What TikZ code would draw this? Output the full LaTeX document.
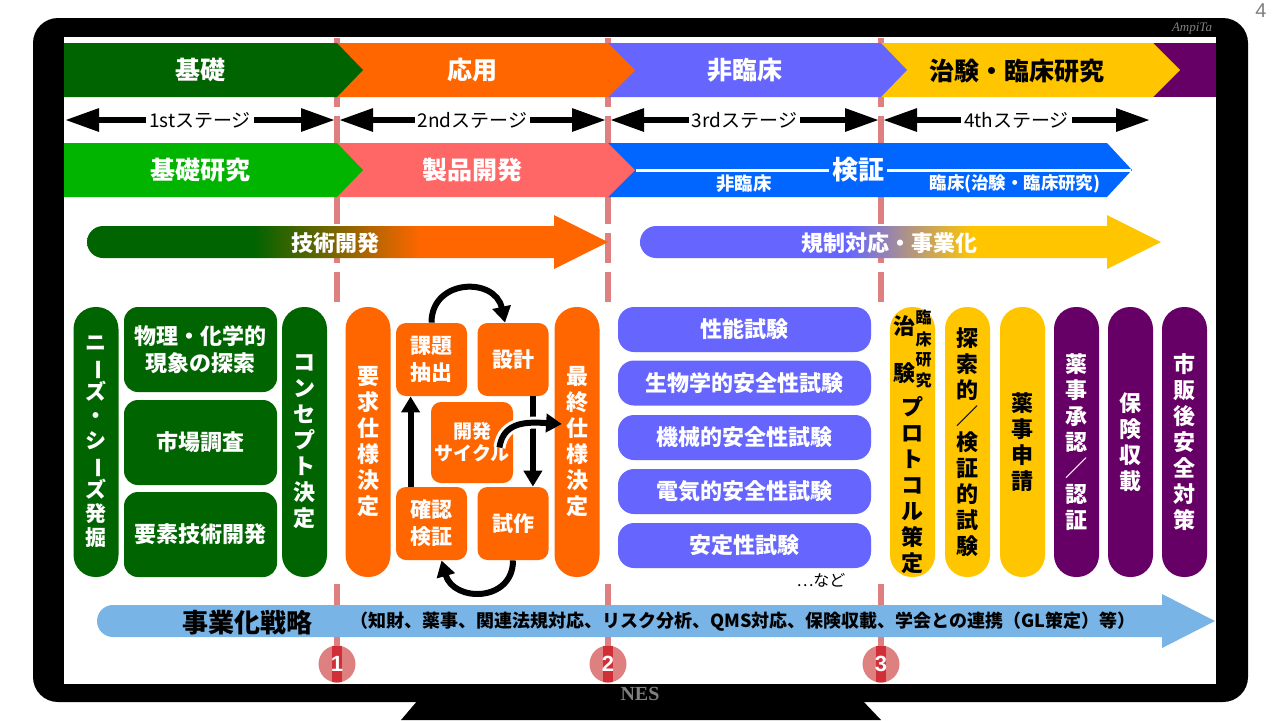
\documentclass[tikz,border=0pt]{standalone}
\usepackage{fontspec}
\setmainfont{Noto Sans CJK JP}
\newfontfamily\latinsans{Liberation Sans}
\newfontfamily\latinserif{Liberation Serif}
\usepackage{graphicx}
\usepackage{xcolor}
\usepackage{tikz}
\usetikzlibrary{positioning, shapes.geometric, calc, arrows.meta}
\definecolor{ntDkGreen}{RGB}{0, 100, 0}
\definecolor{ntGreen}{RGB}{0, 180, 0}
\definecolor{ntOrange}{RGB}{255, 102, 0}
\definecolor{ntSalmon}{RGB}{255, 102, 102}
\definecolor{ntViolet}{RGB}{102, 102, 255}
\definecolor{ntBlue}{RGB}{0, 102, 255}
\definecolor{ntYellow}{RGB}{255, 198, 0}
\definecolor{ntPurple}{RGB}{102, 0, 102}
\definecolor{ntLine}{RGB}{222, 128, 128}
\definecolor{ntRed}{RGB}{200, 10, 20}
\definecolor{ntSky}{RGB}{120, 180, 230}
\definecolor{ntGray}{RGB}{128, 128, 128}
\pgfdeclarehorizontalshading{techshade}{100bp}{color(0bp)=(ntDkGreen); color(41bp)=(ntDkGreen); color(57bp)=(ntOrange); color(100bp)=(ntOrange)}
\pgfdeclarehorizontalshading{regshade}{100bp}{color(0bp)=(ntViolet); color(45bp)=(ntViolet); color(57bp)=(ntYellow); color(100bp)=(ntYellow)}
\newcommand{\tatebar}{\rotatebox[origin=c]{-90}{ー}}
\tikzset{
    base/.style={
        align=center,
        inner sep=0pt,
        font=\bfseries
    },
    bandtext/.style={
        base,
        text=white,
        font=\fontsize{12.5}{14}\selectfont\bfseries
    },
    stagetext/.style={
        fill=white,
        inner sep=1.5pt,
        text=black,
        font=\fontsize{9.5}{11}\selectfont
    },
    stage/.style={
        {Triangle[length=17pt,width=11pt]}-{Triangle[length=17pt,width=11pt]},
        line width=3pt,
        black
    },
    phase/.style={
        draw=ntLine,
        line width=3pt,
        dash pattern=on 15pt off 4.5pt
    },
    arrowtext/.style={
        base,
        text=white,
        font=\fontsize{11}{13}\selectfont\bfseries
    },
    task/.style={
        base,
        rectangle,
        rounded corners=7pt,
        text=white,
        font=\fontsize{11}{13.5}\selectfont\bfseries
    },
    greenbox/.style={
        task,
        fill=ntDkGreen,
        minimum width=76.5pt,
        minimum height=42.5pt
    },
    cyclebox/.style={
        task,
        fill=ntOrange,
        rounded corners=5pt,
        minimum width=35.5pt,
        minimum height=36.5pt,
        font=\fontsize{10.5}{13.5}\selectfont\bfseries
    },
    testbox/.style={
        task,
        fill=ntViolet,
        rounded corners=8pt,
        minimum width=126.5pt,
        minimum height=22.5pt
    },
    pill/.style={
        base,
        rectangle,
        rounded corners=11pt,
        minimum width=22.5pt,
        minimum height=135pt,
        text=white,
        font=\fontsize{11}{13}\selectfont\bfseries
    },
    cycle/.style={
        -{Triangle[length=8pt,width=9pt]},
        line width=3pt,
        black
    },
    badge/.style={
        circle,
        minimum size=18.5pt,
        inner sep=0pt,
        fill=ntLine,
        path picture={
            \fill[ntRed!85] ([xshift=-2.6pt]path picture bounding box.south)
              rectangle ([xshift=2.6pt]path picture bounding box.north);
        },
        text=white,
        font=\latinsans\bfseries\fontsize{11}{12}\selectfont
    }
}
\begin{document}
\begin{tikzpicture}[x=0.5pt, y=-0.5pt]
  \useasboundingbox (0,0) rectangle (1280,720);
  \fill[white] (0,0) rectangle (1280,720);

  % Monitor
  \fill[black, rounded corners=12.5pt] (33,18) rectangle (1248,702);
  \fill[black] (418,700) -- (862,700) -- (881,720) -- (401,720) -- cycle;
  \fill[white] (64,37) rectangle (1216,684);

  % Phase lines
  \coordinate (top1) at (337,38);  \coordinate (bot1) at (337,650);
  \coordinate (top2) at (608,38);  \coordinate (bot2) at (608,650);
  \coordinate (top3) at (881,38);  \coordinate (bot3) at (881,650);
  \foreach \p in {1,2,3}
    \draw[phase] (top\p) -- (bot\p);
  \fill[white] (64,306) rectangle (1216,578);

  % Phase band
  \fill[ntPurple] (1150,43) rectangle (1216,97);
  \fill[ntYellow] (881,43) -- (1153,43) -- (1180,70) -- (1153,97) -- (881,97) -- cycle;
  \fill[ntViolet] (608,43) -- (881,43) -- (907,70) -- (881,97) -- (608,97) -- cycle;
  \fill[ntOrange] (337,43) -- (608,43) -- (635,70) -- (608,97) -- (337,97) -- cycle;
  \fill[ntDkGreen] (64,43) -- (337,43) -- (363,70) -- (337,97) -- (64,97) -- cycle;
  \node[bandtext] (kiso) at (200,70) {基礎};
  \node[bandtext] (ouyou) at (472,70) {応用};
  \node[bandtext] (hirinsho) at (745,70) {非臨床};
  \node[bandtext, text=black] (chiken) at (1017,71) {治験・臨床研究};

  % Stages
  \coordinate (s1a) at (65,120);  \coordinate (s1b) at (335,120);
  \coordinate (s2a) at (339,120); \coordinate (s2b) at (606,120);
  \coordinate (s3a) at (610,120); \coordinate (s3b) at (879,120);
  \coordinate (s4a) at (883,120); \coordinate (s4b) at (1150,120);
  \foreach \s/\lbl in {1/1st,2/2nd,3/3rd,4/4th}
    \draw[stage] (s\s a) -- (s\s b) node[midway, stagetext] (stage\s) {\lbl ステージ};

  % Work band
  \fill[ntBlue] (608,143) -- (1107,143) -- (1132,170) -- (1107,197) -- (608,197) -- cycle;
  \fill[ntSalmon] (337,143) -- (608,143) -- (635,170) -- (608,197) -- (337,197) -- cycle;
  \fill[ntGreen] (64,143) -- (337,143) -- (363,170) -- (337,197) -- (64,197) -- cycle;
  \draw[white, line width=1.5pt] (636,170) -- (1131,170);
  \node[bandtext] (kisokenkyu) at (200,170) {基礎研究};
  \node[bandtext] (seihin) at (472,170) {製品開発};
  \node[bandtext, fill=ntBlue, inner sep=1.5pt, font=\fontsize{13}{15}\selectfont\bfseries] (kensho) at (858,170) {検証};
  \node[base, text=white, font=\fontsize{9.2}{11}\selectfont\bfseries] (kenshoA) at (744,184) {非臨床};
  \node[base, text=white, font=\fontsize{8.7}{10}\selectfont\bfseries] (kenshoB) at (1015,184) {臨床(治験・臨床研究)};

  % Development and regulation arrows
  \shade[shading=techshade] (103,226) -- (554,226) -- (554,215) -- (608,242) -- (554,269) -- (554,258) -- (103,258)
    .. controls (94.2,258) and (87,250.8) .. (87,242) .. controls (87,233.2) and (94.2,226) .. (103,226) -- cycle;
  \node[arrowtext] (gijutsu) at (335,243) {技術開発};
  \shade[shading=regshade] (656,226) -- (1107,226) -- (1107,215) -- (1161,242) -- (1107,269) -- (1107,258) -- (656,258)
    .. controls (647.2,258) and (640,250.8) .. (640,242) .. controls (640,233.2) and (647.2,226) .. (656,226) -- cycle;
  \node[arrowtext] (kisei) at (889,243) {規制対応・事業化};

  % Basic research
  \node[pill, fill=ntDkGreen, font=\fontsize{10.5}{12.2}\selectfont\bfseries] (needs) at (96,442) {ニ\\\tatebar\\ズ\\・\\シ\\\tatebar\\ズ\\発\\掘};
  \node[greenbox] (butsuri) at (200.5,349.5) {物理・化学的\\現象の探索};
  \node[greenbox] (shijou) at (200.5,442.5) {市場調査};
  \node[greenbox] (youso) at (200.5,534.5) {要素技術開発};
  \node[pill, fill=ntDkGreen] (concept) at (304.5,442) {コ\\ン\\セ\\プ\\ト\\決\\定};

  % Development cycle
  \node[pill, fill=ntOrange] (youkyu) at (368,442) {要\\求\\仕\\様\\決\\定};
  \node[cyclebox] (kadai) at (431.5,359.5) {課題\\抽出};
  \node[cyclebox] (sekkei) at (513,359.5) {設計};
  \node[cyclebox, minimum width=41pt, minimum height=40.5pt, font=\fontsize{9.5}{11}\selectfont\bfseries] (kaihatsu) at (472,442.5) {開発\\サイクル};
  \node[cyclebox] (kakunin) at (431.5,523.5) {確認\\検証};
  \node[cyclebox] (shisaku) at (513,523.5) {試作};
  \node[pill, fill=ntOrange] (saishu) at (577,442) {最\\終\\仕\\様\\決\\定};

  \draw[cycle] (kadai.north) .. controls +(0,-44) and +(-10,-46) .. ([xshift=-4pt]sekkei.north);
  \draw[cycle] ([xshift=-8pt]sekkei.south east) -- ([xshift=-8pt]shisaku.north east);
  \draw[cycle] (shisaku.south) .. controls +(0,42) and +(12,42) .. ([xshift=5pt]kakunin.south);
  \draw[cycle] ([xshift=7.5pt]kakunin.north west) -- ([xshift=7.5pt]kadai.south west);
  \draw[cycle, preaction={draw=white, line width=6pt}] ([shift={(-7pt,-2.5pt)}]kaihatsu.east)
    .. controls +(4,-27) and +(-33,-2) .. ([shift={(4pt,9pt)}]saishu.west);

  % Non-clinical tests
  \node[testbox] (seinou) at (744.5,329.5) {性能試験};
  \node[testbox] (seibutsu) at (744.5,383) {生物学的安全性試験};
  \node[testbox] (kikai) at (744.5,437.5) {機械的安全性試験};
  \node[testbox] (denki) at (744.5,491.5) {電気的安全性試験};
  \node[testbox] (antei) at (744.5,545.5) {安定性試験};
  \node[base, font=\fontsize{8}{10}\selectfont, text=black] (nado) at (821,580) {…など};

  % Clinical and approval
  \node[pill, fill=ntYellow, text=black] (protocol) at (912.5,442)
    {$\vcenter{\hbox{\shortstack{治\\[10pt]験}}}\vcenter{\hbox{\fontsize{8}{9}\selectfont\shortstack{臨\\床\\研\\究}}}$\\[3pt]プ\\ロ\\ト\\コ\\ル\\策\\定};
  \node[pill, fill=ntYellow, text=black] (tansaku) at (967.5,442) {探\\索\\的\\／\\検\\証\\的\\試\\験};
  \node[pill, fill=ntYellow, text=black] (shinsei) at (1022.5,442) {薬\\事\\申\\請};
  \node[pill, fill=ntPurple] (shounin) at (1076.5,442) {薬\\事\\承\\認\\／\\認\\証};
  \node[pill, fill=ntPurple] (hoken) at (1130.5,442) {保\\険\\収\\載};
  \node[pill, fill=ntPurple] (shihan) at (1184.5,442) {市\\販\\後\\安\\全\\対\\策};

  % Strategy arrow
  \fill[ntSky] (113,605) -- (1162,605) -- (1162,594) -- (1215,621) -- (1162,648) -- (1162,637) -- (113,637)
    .. controls (104.2,637) and (97,629.8) .. (97,621) .. controls (97,612.2) and (104.2,605) .. (113,605) -- cycle;
  \node[base, font=\fontsize{13}{15}\selectfont\bfseries] (senryaku) at (247,623) {事業化戦略};
  \node[base, font=\fontsize{9}{11}\selectfont\bfseries] (senryakuB) at (743,622) {（知財、薬事、関連法規対応、リスク分析、QMS対応、保険収載、学会との連携（GL策定）等）};

  % Badges
  \foreach \p/\x in {1/337,2/608,3/881}
    \node[badge] (badge\p) at (\x,664) {\p};

  % Frame marks
  \node[font=\latinsans\fontsize{10}{12}\selectfont, text=ntGray] (pageno) at (1261,11) {4};
  \node[font=\latinserif\itshape\fontsize{6.5}{8}\selectfont, text=ntGray] (sign) at (1192,29) {AmpiTa};
  \node[font=\latinserif\bfseries\fontsize{10}{12}\selectfont, text=ntGray] (nes) at (640,694) {NES};
\end{tikzpicture}
\end{document}
